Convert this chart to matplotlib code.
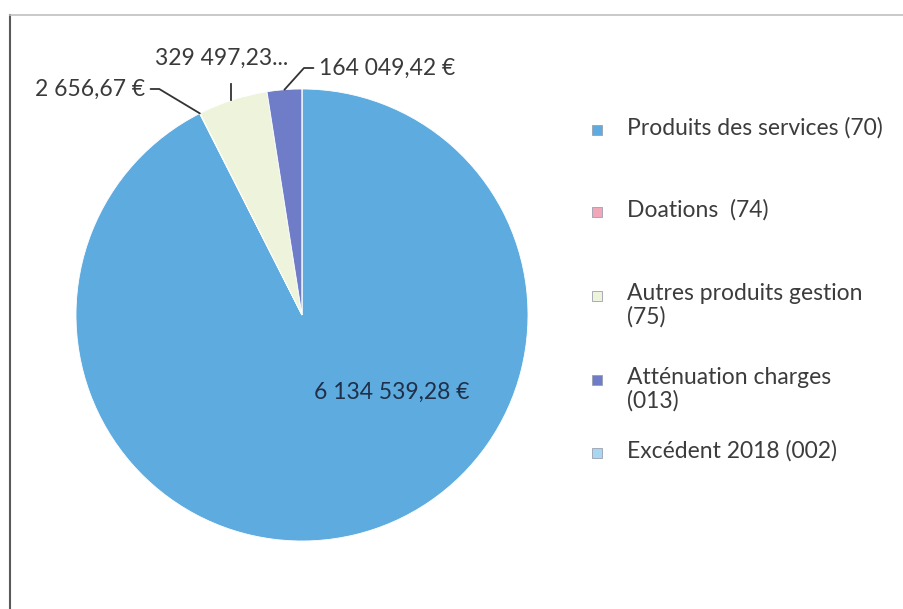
import numpy as np
import matplotlib.pyplot as plt
from matplotlib.patches import Rectangle
from matplotlib.lines import Line2D

plt.rcParams['font.family'] = ['Lato', 'DejaVu Sans']

categories = ['Produits des services (70)', 'Doations  (74)', 'Autres produits gestion\n(75)',
              'Atténuation charges\n(013)', 'Excédent 2018 (002)']
values = [6134539.28, 2656.67, 329497.23, 164049.42, 0.0]
value_labels = ['6 134 539,28 €', '2 656,67 €', '329 497,23...', '164 049,42 €', '']
colors = ['#5eabe0', '#f2a7b8', '#eef4dc', '#6f7dc8', '#a9d6f0']

W, H = 904, 609
fig = plt.figure(figsize=(W / 100, H / 100), dpi=100)

# pie centre and radius in pixels
cx, cy, r = 302, 315, 226
ax = fig.add_axes([(cx - r) / W, (H - cy - r) / H, 2 * r / W, 2 * r / H])
wedges, _ = ax.pie(values, colors=colors, startangle=90, counterclock=False,
                   wedgeprops=dict(linewidth=0.6, edgecolor='white'))
ax.set_xlim(-1, 1)
ax.set_ylim(-1, 1)
ax.set_aspect('equal')


def px(x, y):
    return ((x - cx) / r, (cy - y) / r)


def edge(i):
    w = wedges[i]
    a = np.deg2rad((w.theta1 + w.theta2) / 2)
    return (np.cos(a), np.sin(a))


fs = 16.5
txt = '#3a3a3a'
ax.annotate(value_labels[1], xy=edge(1), xytext=px(145, 89), ha='right', va='center',
            fontsize=fs, color=txt, annotation_clip=False,
            arrowprops=dict(arrowstyle='-', color='#333333', lw=1.3, shrinkA=2, shrinkB=0,
                            connectionstyle='angle,angleA=0,angleB=-31,rad=0'))
ax.annotate(value_labels[2], xy=edge(2), xytext=px(222, 58), ha='center', va='center',
            fontsize=fs, color=txt, annotation_clip=False)
ax.plot([px(231, 84)[0], px(231, 100)[0]], [px(231, 84)[1], px(231, 100)[1]],
        color='#333333', lw=1.3, clip_on=False)
ax.annotate(value_labels[3], xy=edge(3), xytext=px(319, 68), ha='left', va='center',
            fontsize=fs, color=txt, annotation_clip=False,
            arrowprops=dict(arrowstyle='-', color='#333333', lw=1.3, shrinkA=2, shrinkB=0,
                            connectionstyle='angle,angleA=0,angleB=48,rad=0'))
ax.text(*px(392, 392), value_labels[0], ha='center', va='center', fontsize=fs, color='#1f3048')

# legend drawn by hand to keep the uneven spacing of the original
leg_y = [130, 212, 296, 380, 453]
for lab, col, y in zip(categories, colors, leg_y):
    fig.patches.append(Rectangle(((592) / W, (H - y - 5) / H), 10 / W, 10 / H,
                                 transform=fig.transFigure, facecolor=col,
                                 edgecolor='#9aa0b0', lw=0.6))
    fig.text(627 / W, (H - y + 13) / H, lab, ha='left', va='top', fontsize=fs,
             color='#3c3c3c', linespacing=1.12)

# scanned frame
fig.add_artist(Line2D([10 / W, 10 / W], [0, (H - 15) / H], color='#5a5a5a', lw=1.5))
fig.add_artist(Line2D([10 / W, 1], [(H - 15) / H, (H - 15) / H], color='#c0c0c0', lw=1.2))

fig.savefig('out.png', dpi=100)
